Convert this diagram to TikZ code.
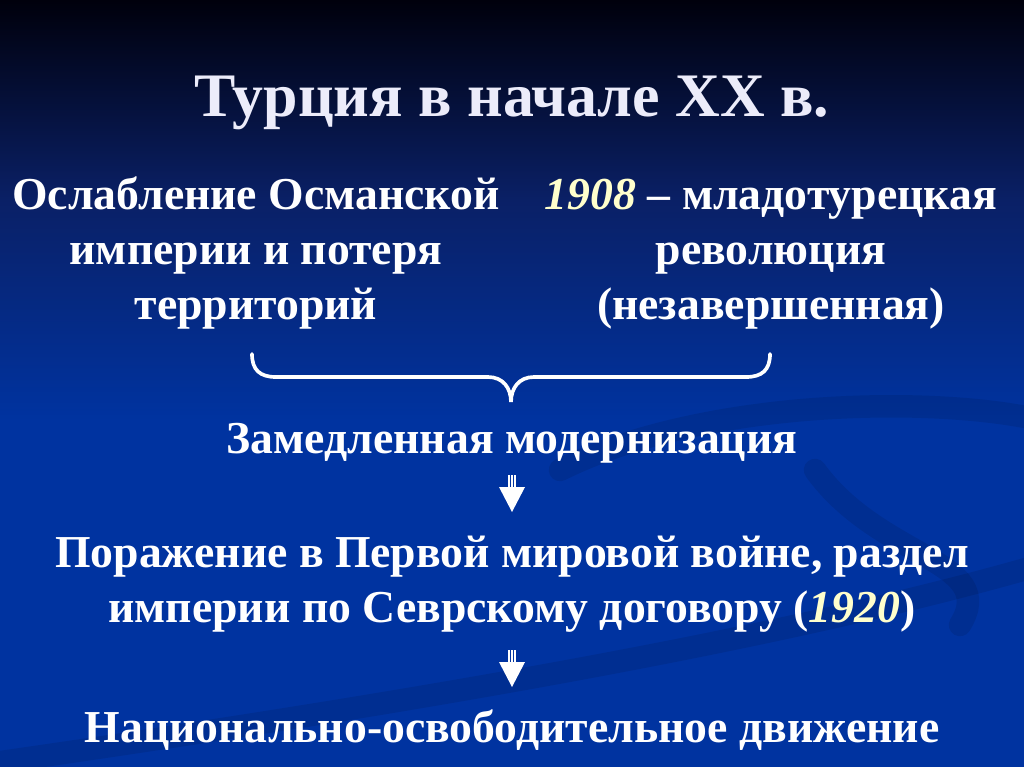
\documentclass[tikz,border=0pt]{standalone}
\usepackage{fontspec}
\setmainfont{Liberation Serif}
\usetikzlibrary{calc}
\definecolor{bgtop}{HTML}{00000C}
\definecolor{bgmid}{HTML}{0A2066}
\definecolor{bgbot}{HTML}{0033A0}
\definecolor{titlec}{HTML}{ECECFA}
\definecolor{yearc}{HTML}{FFFFCC}

\begin{document}
\begin{tikzpicture}[x=0.025cm,y=-0.025cm]

\tikzset{titlenode/.style={font=\bfseries\fontsize{44}{50}\selectfont,text=titlec,inner sep=0pt},
textnode/.style={font=\bfseries\fontsize{32.5}{39}\selectfont,text=white,align=center,inner sep=0pt},
shaft/.style={draw=white,line width=0.85pt,double=bgbot,double distance=3.3pt,postaction={draw=white,line width=0.85pt}},
bracket/.style={draw=white,line width=2.6pt,line cap=round},
swirl/.style={draw=black,opacity=0.09,line width=16pt,line cap=round}}
\newcommand{\yr}[1]{{\itshape\color{yearc}#1}}

% Background
\useasboundingbox (0,0) rectangle (1024,767);
\shade[top color=bgtop,bottom color=bgmid] (0,0) rectangle (1024,200);
\shade[top color=bgmid,bottom color=bgbot] (0,200) rectangle (1024,420);
\fill[bgbot] (0,420) rectangle (1024,767);
\draw[swirl] (560,470) .. controls (700,400) and (930,395) .. (1040,420);
\draw[swirl] (815,470) .. controls (880,560) and (1000,560) .. (960,625);
\draw[swirl] (-20,765) .. controls (400,705) and (780,640) .. (1040,565);

% Title
\node[titlenode,anchor=base] (title) at (512,117) {Турция в начале XX в.};

% Causes (base = last line)
\node[textnode,anchor=base] (loss) at (256,319) {Ослабление Османской\\империи и потеря\\территорий};
\node[textnode,anchor=base] (rev) at (771,319) {\yr{1908} – младотурецкая\\революция\\(незавершенная)};

% Brace
\draw[bracket] (252,354) .. controls (252,370) and (260,377) .. (276,377) -- (488,377)
  .. controls (503,377) and (511,388) .. (511,402)
  .. controls (511,388) and (519,377) .. (534,377) -- (746,377)
  .. controls (762,377) and (770,370) .. (770,354);

% Chain
\node[textnode,anchor=base] (mod) at (512,453) {Замедленная модернизация};
\node[textnode,anchor=base] (war) at (512,622) {Поражение в Первой мировой войне, раздел\\империи по Севрскому договору (\yr{1920})};
\node[textnode,anchor=base] (nat) at (512,742) {Национально-освободительное движение};

% Arrows
\foreach \up/\a in {mod/22,war/28} {
  \draw[shaft] ($(\up.base)+(0,\a)$) -- ($(\up.base)+(0,\a+14)$);
  \fill[white] ($(\up.base)+(-13,\a+12)$) -- ($(\up.base)+(13,\a+12)$) -- ($(\up.base)+(0,\a+37)$) -- cycle;
}

\end{tikzpicture}
\end{document}
